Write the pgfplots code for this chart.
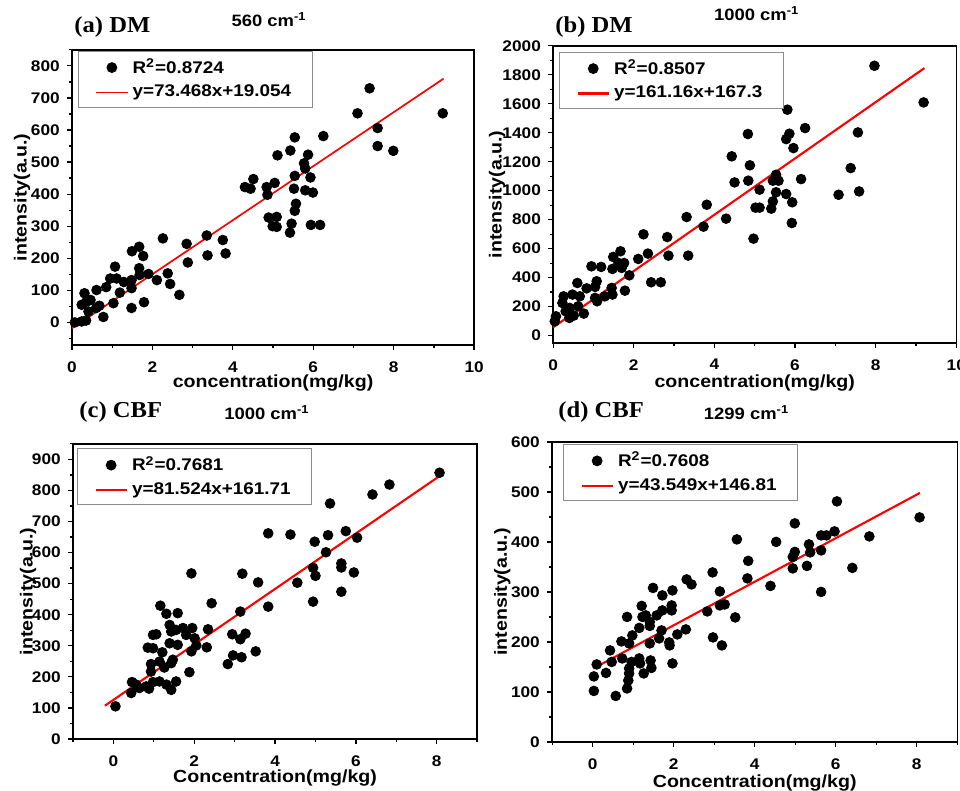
\documentclass[border=0pt]{standalone}
\usepackage{fontspec}
\setmainfont{Liberation Sans}[FakeStretch=1.12]
\newfontfamily\serifb{Liberation Serif}[FakeStretch=1.08]
\usepackage{pgfplots}
\pgfplotsset{compat=1.18}

\pgfplotsset{
  panel/.style={
    scale only axis, anchor=south west,
    axis line style={line width=0.7pt, black},
    tick align=outside, xtick pos=bottom, ytick pos=left,
    major tick length=2.3pt, minor tick length=1.3pt,
    every tick/.style={black, line width=0.6pt},
    ticklabel style={font=\bfseries\fontsize{7.3}{8}\selectfont},
    xticklabel style={yshift=-2pt},
    /pgf/number format/assume math mode=true,
    /pgf/number format/1000 sep={},
    label style={font=\bfseries\fontsize{8.3}{10}\selectfont},
    title style={font=\bfseries\fontsize{7.8}{9}\selectfont, anchor=base},
    legend style={anchor=north west, draw=black!45, line width=0.5pt,
      font=\bfseries\fontsize{8}{9.5}\selectfont, cells={anchor=west},
      inner xsep=8pt, inner ysep=1.5pt, row sep=0pt, fill=white},
  },
  dots/.style={only marks, mark=*, mark size=2.3pt, black,
    legend image code/.code={\draw[##1] plot coordinates {(0.26cm,0cm)};}},
  fit/.style={red, line width=1pt, no marks,
    legend image code/.code={\draw[##1] (0cm,0cm) -- (0.52cm,0cm);}},
}

\begin{document}
\begin{tikzpicture}[x=0.0166667cm, y=0.0166667cm]
\useasboundingbox (0,0) rectangle (960,791);

% (a) DM, 560
\begin{axis}[panel, at={(1.200cm,7.433cm)}, width=6.700cm, height=4.917cm,
  xmin=0, xmax=10, ymin=-70, ymax=850,
  xtick={0,2,...,10}, minor xtick={1,3,...,9},
  ytick={0,100,...,800}, minor ytick={-50,50,...,850},
  xlabel={concentration(mg/kg)}, ylabel={intensity(a.u.)},
  xlabel style={at={(axis description cs:0.5,-0.146)}, anchor=base},
  ylabel style={at={(axis description cs:-0.124,0.5)}, anchor=center},
  title={560 cm\textsuperscript{-1}}, title style={at={(0.49,1)}, yshift=5.2pt},
  legend style={at={(axis description cs:0.015,0.997)}}]
\addplot[dots] coordinates {(7.40,730) (7.10,652) (9.22,652) (7.60,606) (7.60,550) (7.99,535) (6.25,581) (5.54,577) (5.43,536) (5.11,521) (5.87,523) (5.77,496) (5.80,480) (5.54,457) (5.93,452) (5.52,417) (5.80,412) (5.99,405) (5.57,370) (5.54,348) (5.46,308) (5.42,280) (5.94,304) (6.17,304) (5.04,435) (4.84,422) (4.86,398) (4.89,327) (5.09,329) (4.99,300) (5.09,298) (4.51,447) (4.30,422) (4.44,417) (3.75,257) (3.82,215) (3.35,271) (3.37,209) (2.85,245) (2.88,187) (2.26,262) (2.38,153) (2.44,120) (2.67,86) (2.11,132) (1.67,236) (1.77,207) (1.49,222) (1.67,169) (1.68,148) (1.90,151) (1.48,132) (1.48,107) (1.48,45) (1.79,63) (1.07,174) (0.95,137) (1.11,137) (1.29,126) (1.19,93) (1.03,60) (0.85,110) (0.61,101) (0.78,17) (0.31,91) (0.24,55) (0.46,70) (0.36,65) (0.60,45) (0.41,34) (0.35,6) (0.24,3) (0.07,0) (0.68,52)};
\addlegendentry{R\textsuperscript{2}=0.8724}
\addplot[fit, line width=0.8pt] coordinates {(0,-18) (9.24,760)};
\addlegendentry{y=73.468x+19.054}
\end{axis}

% (b) DM, 1000
\begin{axis}[panel, at={(9.217cm,7.467cm)}, width=6.717cm, height=4.950cm,
  xmin=0, xmax=10, ymin=-50, ymax=2000,
  xtick={0,2,...,10}, minor xtick={1,3,...,9},
  ytick={0,200,...,2000}, minor ytick={100,300,...,1900},
  xlabel={concentration(mg/kg)}, ylabel={intensity(a.u.)},
  xlabel style={at={(axis description cs:0.5,-0.152)}, anchor=base},
  ylabel style={at={(axis description cs:-0.139,0.5)}, anchor=center},
  title={1000 cm\textsuperscript{-1}}, title style={at={(0.505,1)}, yshift=6pt},
  legend style={at={(axis description cs:0.015,0.98)}}]
\addplot[dots] coordinates {(7.97,1862) (9.19,1609) (5.81,1559) (6.25,1432) (5.86,1393) (5.78,1356) (4.83,1391) (7.56,1402) (5.96,1294) (4.43,1237) (4.88,1175) (7.38,1156) (4.50,1057) (4.84,1069) (6.15,1080) (5.53,1110) (5.45,1069) (5.59,1069) (5.12,1007) (5.53,989) (5.78,977) (7.08,972) (7.59,995) (5.45,926) (5.93,920) (5.41,876) (5.02,883) (5.12,883) (5.92,777) (4.97,669) (4.29,807) (3.81,903) (3.31,818) (3.73,752) (3.35,552) (2.83,680) (2.86,552) (2.24,699) (2.35,566) (2.11,529) (2.43,368) (2.67,368) (1.89,416) (1.78,310) (1.67,582) (1.49,543) (1.62,501) (1.76,501) (1.47,460) (1.70,467) (1.19,474) (0.95,478) (1.08,375) (1.04,336) (0.83,326) (1.04,260) (1.09,237) (1.28,271) (1.45,329) (1.47,283) (0.60,363) (0.66,271) (0.48,283) (0.26,271) (0.23,225) (0.41,191) (0.31,168) (0.40,122) (0.51,138) (0.76,152) (0.62,202) (0.07,133) (0.04,99)};
\addlegendentry{R\textsuperscript{2}=0.8507}
\addplot[fit] coordinates {(0,57) (9.21,1846)};
\addlegendentry{y=161.16x+167.3}
\end{axis}

% (c) CBF, 1000
\begin{axis}[panel, at={(1.217cm,0.867cm)}, width=6.733cm, height=4.917cm,
  xmin=-1, xmax=9, ymin=0, ymax=950,
  xtick={0,2,...,8}, minor xtick={-1,1,...,9},
  ytick={0,100,...,900}, minor ytick={50,150,...,950},
  xlabel={Concentration(mg/kg)}, ylabel={intensity(a.u.)},
  xlabel style={at={(axis description cs:0.5,-0.146)}, anchor=base},
  ylabel style={at={(axis description cs:-0.111,0.5)}, anchor=center},
  title={1000 cm\textsuperscript{-1}}, title style={at={(0.48,1)}, yshift=5.6pt},
  legend style={at={(axis description cs:0.01,0.985)}}]
\addplot[dots] coordinates {(8.07,857) (6.83,819) (6.41,787) (5.36,758) (3.83,662) (4.38,658) (5.31,656) (5.75,669) (4.98,635) (6.03,648) (5.26,601) (4.94,551) (5.00,525) (5.64,565) (5.64,552) (5.95,536) (5.64,474) (4.55,503) (4.94,442) (3.58,504) (3.19,532) (1.93,533) (3.83,426) (3.14,410) (2.43,437) (2.34,353) (2.31,295) (2.94,337) (3.14,321) (3.27,339) (2.96,269) (2.83,241) (3.17,263) (3.52,282) (2.05,301) (1.95,357) (1.93,282) (1.88,215) (1.72,357) (1.55,351) (1.80,335) (2.01,324) (1.59,405) (1.31,403) (1.16,429) (1.39,367) (1.43,346) (1.59,303) (1.39,308) (1.06,337) (0.98,335) (0.85,294) (0.98,292) (1.21,279) (1.14,249) (1.26,230) (0.93,241) (0.93,217) (1.43,244) (1.47,255) (1.55,185) (1.14,185) (0.98,183) (0.88,162) (0.64,164) (0.56,175) (0.81,169) (0.46,183) (0.44,148) (1.43,158) (1.31,175) (0.05,105)};
\addlegendentry{R\textsuperscript{2}=0.7681}
\addplot[fit] coordinates {(-0.21,107) (8.10,849)};
\addlegendentry{y=81.524x+161.71}
\end{axis}

% (d) CBF, 1299
\begin{axis}[panel, at={(9.200cm,0.817cm)}, width=6.750cm, height=5.000cm,
  xmin=-1, xmax=9, ymin=0, ymax=600,
  xtick={0,2,...,8}, minor xtick={-1,1,...,9},
  ytick={0,100,...,600}, minor ytick={50,150,...,550},
  xlabel={Concentration(mg/kg)}, ylabel={intensity(a.u.)},
  xlabel style={at={(axis description cs:0.5,-0.153)}, anchor=base},
  ylabel style={at={(axis description cs:-0.123,0.5)}, anchor=center},
  title={1299 cm\textsuperscript{-1}}, title style={at={(0.48,1)}, yshift=4.7pt},
  legend style={at={(axis description cs:0.027,0.993)}}]
\addplot[dots] coordinates {(8.07,449) (6.03,481) (5.97,421) (5.64,413) (5.77,413) (5.64,383) (5.34,395) (5.37,379) (5.29,352) (6.41,348) (5.64,300) (6.83,411) (4.99,437) (4.99,380) (4.94,370) (4.94,347) (4.53,400) (4.39,312) (3.84,362) (3.82,327) (3.56,405) (3.52,249) (2.96,339) (3.14,301) (3.14,273) (3.26,275) (2.97,209) (3.19,193) (2.83,261) (2.32,325) (2.44,315) (2.30,225) (2.09,215) (1.97,303) (1.95,273) (1.95,263) (1.89,199) (1.90,193) (1.97,157) (1.72,293) (1.72,263) (1.70,223) (1.64,207) (1.49,308) (1.58,253) (1.41,240) (1.31,253) (1.23,250) (1.21,272) (1.15,228) (1.41,232) (1.41,197) (1.43,163) (1.45,148) (1.26,137) (1.15,167) (1.17,157) (0.98,213) (0.96,160) (0.85,250) (0.90,197) (0.90,147) (0.90,137) (0.88,123) (0.85,107) (0.71,201) (0.73,167) (0.43,183) (0.47,160) (0.33,138) (0.57,92) (0.10,155) (0.03,131) (0.03,102)};
\addlegendentry{R\textsuperscript{2}=0.7608}
\addplot[fit] coordinates {(0.02,147) (8.08,498)};
\addlegendentry{y=43.549x+146.81}
\end{axis}

\node[anchor=base west, font=\serifb\bfseries\fontsize{10.8}{12}\selectfont] at (67,758) {(a) DM};
\node[anchor=base west, font=\serifb\bfseries\fontsize{10.8}{12}\selectfont] at (548,758) {(b) DM};
\node[anchor=base west, font=\serifb\bfseries\fontsize{10.8}{12}\selectfont] at (72,373) {(c) CBF};
\node[anchor=base west, font=\serifb\bfseries\fontsize{10.8}{12}\selectfont] at (551,373) {(d) CBF};
\end{tikzpicture}
\end{document}
